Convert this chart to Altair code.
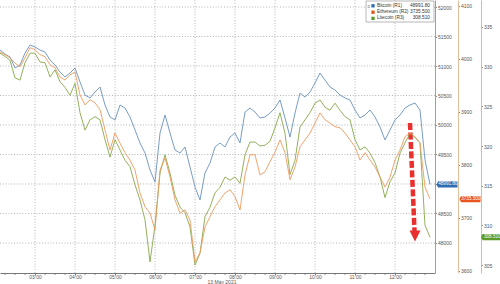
import altair as alt
import pandas as pd
from datetime import datetime, timedelta

FONT = "Liberation Sans"

# ---- data (one value every 7.5 minutes, 02:07:30 .. 12:52:30) ----
START = datetime(2021, 5, 13, 2, 7, 30)
STEP_MIN = 7.5

btc = [51271, 51203, 51152, 50966, 51017, 51220, 51356, 51322, 51271, 51237,
       51102, 51017, 50898, 50814, 50881, 50966, 50729, 50508, 50458, 50559,
       50644, 50339, 50136, 50085, 50339, 50288, 50136, 49915, 49695, 49525,
       49237, 49034, 49864, 50169, 49864, 49576, 49525, 49627, 49288, 48949,
       48729, 49186, 49356, 49627, 49695, 49627, 49796, 49864, 49695, 50220,
       50288, 50220, 50119, 50136, 50203, 50288, 50424, 50119, 49796, 50203,
       50542, 50474, 50559, 50712, 50881, 50763, 50644, 50593, 50508, 50458,
       50424, 50254, 50119, 50169, 50254, 50136, 49966, 49746, 49915, 50085,
       50169, 50288, 50339, 50373, 50254, 49407, 48991.8]

eth = [4013, 4008, 4002, 3992, 3985, 4002, 4021, 4017, 4008, 4004,
       3989, 3983, 3966, 3960, 3970, 3975, 3932, 3913, 3923, 3917,
       3904, 3866, 3828, 3860, 3841, 3823, 3809, 3790, 3747, 3721,
       3709, 3677, 3790, 3813, 3777, 3734, 3709, 3715, 3696, 3617,
       3634, 3683, 3702, 3721, 3734, 3747, 3753, 3740, 3715, 3781,
       3819, 3819, 3781, 3787, 3806, 3824, 3847, 3823, 3772, 3796,
       3834, 3847, 3860, 3879, 3898, 3885, 3879, 3872, 3870, 3860,
       3847, 3834, 3809, 3823, 3809, 3796, 3777, 3758, 3777, 3809,
       3828, 3853, 3860, 3853, 3841, 3758, 3735.5]

ltc = [331.7, 331.3, 330.8, 328.6, 328.3, 330.5, 331.7, 331.7, 330.6, 330.5,
       328.7, 329.6, 328.1, 327.4, 326.4, 327.9, 324.2, 322.0, 323.3, 323.7,
       323.3, 320.8, 318.6, 320.8, 319.5, 318.2, 317.4, 315.1, 313.2, 310.7,
       305.4, 310.0, 316.6, 318.9, 316.6, 313.8, 312.3, 311.6, 309.8, 305.0,
       306.5, 311.1, 312.3, 314.1, 314.8, 316.1, 315.7, 316.1, 315.3, 318.9,
       320.5, 320.5, 320.0, 320.1, 320.6, 322.3, 324.2, 321.6, 316.4, 318.2,
       322.4, 323.3, 324.2, 325.4, 325.8, 324.9, 324.5, 325.4, 324.5, 323.7,
       323.3, 320.8, 319.5, 319.9, 319.1, 317.9, 316.1, 313.5, 315.5, 316.6,
       319.1, 320.4, 321.6, 321.1, 320.4, 310.0, 308.51]

series_names = ["Bitcoin (R1)", "Ethereum (R2)", "Litecoin (R3)"]
last_labels = ["48991.80", "3735.500", "308.510"]
line_colors = ["#6a92bd", "#ee9a5c", "#87a84a"]
box_colors = ["#2f6db0", "#e8561e", "#5d9a2c"]
btc_ticks = [48000, 48500, 49000, 49500, 50000, 50500, 51000, 51500, 52000]
btc_hidden_label = 49000  # covered by the last-value box in the reference
eth_ticks = [3600, 3700, 3800, 3900, 4000, 4100]
ltc_ticks = [305, 310, 315, 320, 325, 330, 335]
hour_ticks = list(range(3, 13))
date_label = "13 May 2021"

BTC_DOMAIN = [47491, 52119]
ETH_DOMAIN = [3596, 4111]
LTC_DOMAIN = [304.0, 338.4]
T_START = "2021-05-13T02:07:30"
T_END = "2021-05-13T13:00:00"

# red annotation arrow (in time / Bitcoin price space)
arrow_t = ["2021-05-13T12:22:30", "2021-05-13T12:29:15"]
arrow_v = [50034, 48203]
arrow_head_t = "2021-05-13T12:30:00"
arrow_head_v = 48118

times = [(START + timedelta(minutes=STEP_MIN * i)).strftime("%Y-%m-%dT%H:%M:%S")
         for i in range(len(btc))]
hour_times = [datetime(2021, 5, 13, h).strftime("%Y-%m-%dT%H:%M:%S") for h in hour_ticks]
minor_times = []
t = datetime(2021, 5, 13, 2, 15)
while t < datetime(2021, 5, 13, 13, 0):
    if t.minute != 0:
        minor_times.append(t.strftime("%Y-%m-%dT%H:%M:%S"))
    t += timedelta(minutes=15)


def dt(h, m=0, s=0):
    return alt.DateTime(year=2021, month=5, date=13, hours=h, minutes=m, seconds=s)


GRID = "#b4b4b4"
GRAY = "#555"

xscale = alt.Scale(domain=[dt(2, 7, 30), dt(13, 0, 0)])
x_axis = alt.Axis(values=[dt(h) for h in hour_ticks], format="%H:%M", grid=False,
                  labelFontSize=5, labelColor=GRAY, tickColor="#777", tickSize=2,
                  domainColor="#777", domainWidth=1, labelPadding=-1, title=None,
                  labelFont=FONT)


def y_axis(ticks, offset, dom_color, hidden=None):
    kw = {}
    if hidden is not None:
        kw["labelExpr"] = "datum.value == %d ? '' : format(datum.value, 'd')" % hidden
    return alt.Axis(orient="right", offset=offset, values=ticks, format="d", grid=False,
                    labelFontSize=5, labelColor=GRAY, tickSize=1.5, tickColor="#888",
                    domainColor=dom_color, title=None, labelPadding=1, labelFont=FONT, **kw)


box_shape = "M-1,0 L-0.85,-0.3 L1,-0.3 L1,0.3 L-0.85,0.3 Z"


def series_layer(values, domain, ticks, offset, dom_color, idx, box_x, hidden=None):
    df = pd.DataFrame({"t": times, "v": values})
    yscale = alt.Scale(domain=domain, nice=False, zero=False)
    yax = y_axis(ticks, offset, dom_color, hidden)
    line = alt.Chart(df).mark_line(color=line_colors[idx], strokeWidth=0.9).encode(
        x=alt.X("t:T", scale=xscale, axis=x_axis),
        y=alt.Y("v:Q", scale=yscale, axis=yax))
    last = pd.DataFrame({"v": [values[-1]], "lab": [last_labels[idx]]})
    box = alt.Chart(last).mark_point(shape=box_shape, size=441, filled=True, opacity=1,
                                     color=box_colors[idx]).encode(
        x=alt.value(box_x), y=alt.Y("v:Q", scale=yscale, axis=yax))
    txt = alt.Chart(last).mark_text(color="white", fontSize=4.6, font=FONT,
                                    align="center", baseline="middle", dx=0.8).encode(
        x=alt.value(box_x), y=alt.Y("v:Q", scale=yscale, axis=yax), text="lab:N")
    return [line, box, txt], yscale, yax


btc_parts, btc_scale, btc_ax = series_layer(btc, BTC_DOMAIN, btc_ticks, 0, "#8aa4c0", 0, 447,
                                            hidden=btc_hidden_label)
ltc_parts, _, _ = series_layer(ltc, LTC_DOMAIN, ltc_ticks, 46, "#b9c9a2", 2, 491.5)
eth_parts, _, _ = series_layer(eth, ETH_DOMAIN, eth_ticks, 23, "#e2bf9a", 1, 470)

arrow_df = pd.DataFrame({"t": [arrow_t[0]], "t1": [arrow_t[1]], "v": [arrow_v[0]], "v1": [arrow_v[1]]})
arrow = alt.Chart(arrow_df).mark_rule(color="#e8302e", strokeWidth=4.5, strokeDash=[7, 2.5]).encode(
    x=alt.X("t:T", scale=xscale, axis=x_axis), x2="t1:T",
    y=alt.Y("v:Q", scale=btc_scale, axis=btc_ax), y2="v1:Q")
head_df = pd.DataFrame({"t": [arrow_head_t], "v": [arrow_head_v]})
head = alt.Chart(head_df).mark_point(shape="M-1,-1 L1,-1 L0,1 Z", size=121, filled=True,
                                     opacity=1, color="#e8302e").encode(
    x=alt.X("t:T", scale=xscale, axis=x_axis),
    y=alt.Y("v:Q", scale=btc_scale, axis=btc_ax))

btc_layer = alt.layer(*btc_parts, arrow, head)
ltc_layer = alt.layer(*ltc_parts)
eth_layer = alt.layer(*eth_parts)

# dotted grid: each grid line is a two-point line built from the tick values
grid_rows = []
for v in btc_ticks:
    grid_rows.append({"k": "h%d" % v, "o": 0, "t": T_START, "v": v})
    grid_rows.append({"k": "h%d" % v, "o": 1, "t": T_END, "v": v})
for ht in hour_times:
    grid_rows.append({"k": "v" + ht, "o": 0, "t": ht, "v": BTC_DOMAIN[0]})
    grid_rows.append({"k": "v" + ht, "o": 1, "t": ht, "v": BTC_DOMAIN[1]})
grid = alt.Chart(pd.DataFrame(grid_rows)).mark_line(
    color=GRID, strokeWidth=1, strokeDash=[1, 1.8], opacity=1).encode(
    x=alt.X("t:T", scale=xscale, axis=x_axis),
    y=alt.Y("v:Q", scale=alt.Scale(domain=BTC_DOMAIN, nice=False, zero=False), axis=None),
    detail="k:N", order="o:Q")

minor_df = pd.DataFrame({"t": minor_times})
minor = alt.Chart(minor_df).mark_rule(color="#777", strokeWidth=0.8).encode(
    x=alt.X("t:T", scale=xscale, axis=x_axis), y=alt.value(273), y2=alt.value(275))

one = pd.DataFrame({"a": [0]})
legend_box = alt.Chart(one).mark_rect(fill="white", stroke="#9a9a9a", strokeWidth=0.7).encode(
    x=alt.value(366), x2=alt.value(434), y=alt.value(1), y2=alt.value(22))
legend_parts = [legend_box]
row_y = [5.8, 12.2, 18.4]
for i in range(3):
    legend_parts.append(alt.Chart(one).mark_square(size=11, filled=True, opacity=1,
                                                   color=box_colors[i]).encode(
        x=alt.value(373), y=alt.value(row_y[i])))
    legend_parts.append(alt.Chart(one).mark_text(text=series_names[i], fontSize=4.8, font=FONT,
                                                 color="#333", align="left", baseline="middle").encode(
        x=alt.value(377), y=alt.value(row_y[i])))
    legend_parts.append(alt.Chart(one).mark_text(text=last_labels[i], fontSize=4.8, font=FONT,
                                                 color="#333", align="right", baseline="middle").encode(
        x=alt.value(430), y=alt.value(row_y[i])))
legend_parts.append(alt.Chart(one).mark_text(text="\u2261", fontSize=5, font=FONT, color="#777",
                                             align="center", baseline="middle").encode(
    x=alt.value(369), y=alt.value(5.8)))

date_txt = alt.Chart(one).mark_text(text=date_label, fontSize=5, font=FONT, color=GRAY,
                                    align="center", baseline="middle").encode(
    x=alt.value(222), y=alt.value(281.5))

chart = alt.layer(grid, btc_layer, ltc_layer, eth_layer, minor, *legend_parts,
                  date_txt).resolve_scale(y="independent").properties(
    width=435, height=273,
    autosize=alt.AutoSizeParams(type="none"),
    padding={"left": 0, "top": 0, "right": 65, "bottom": 11},
    background="white",
).configure_view(stroke=None)

chart.save("out.html", embed_options={"renderer": "svg", "actions": False})
